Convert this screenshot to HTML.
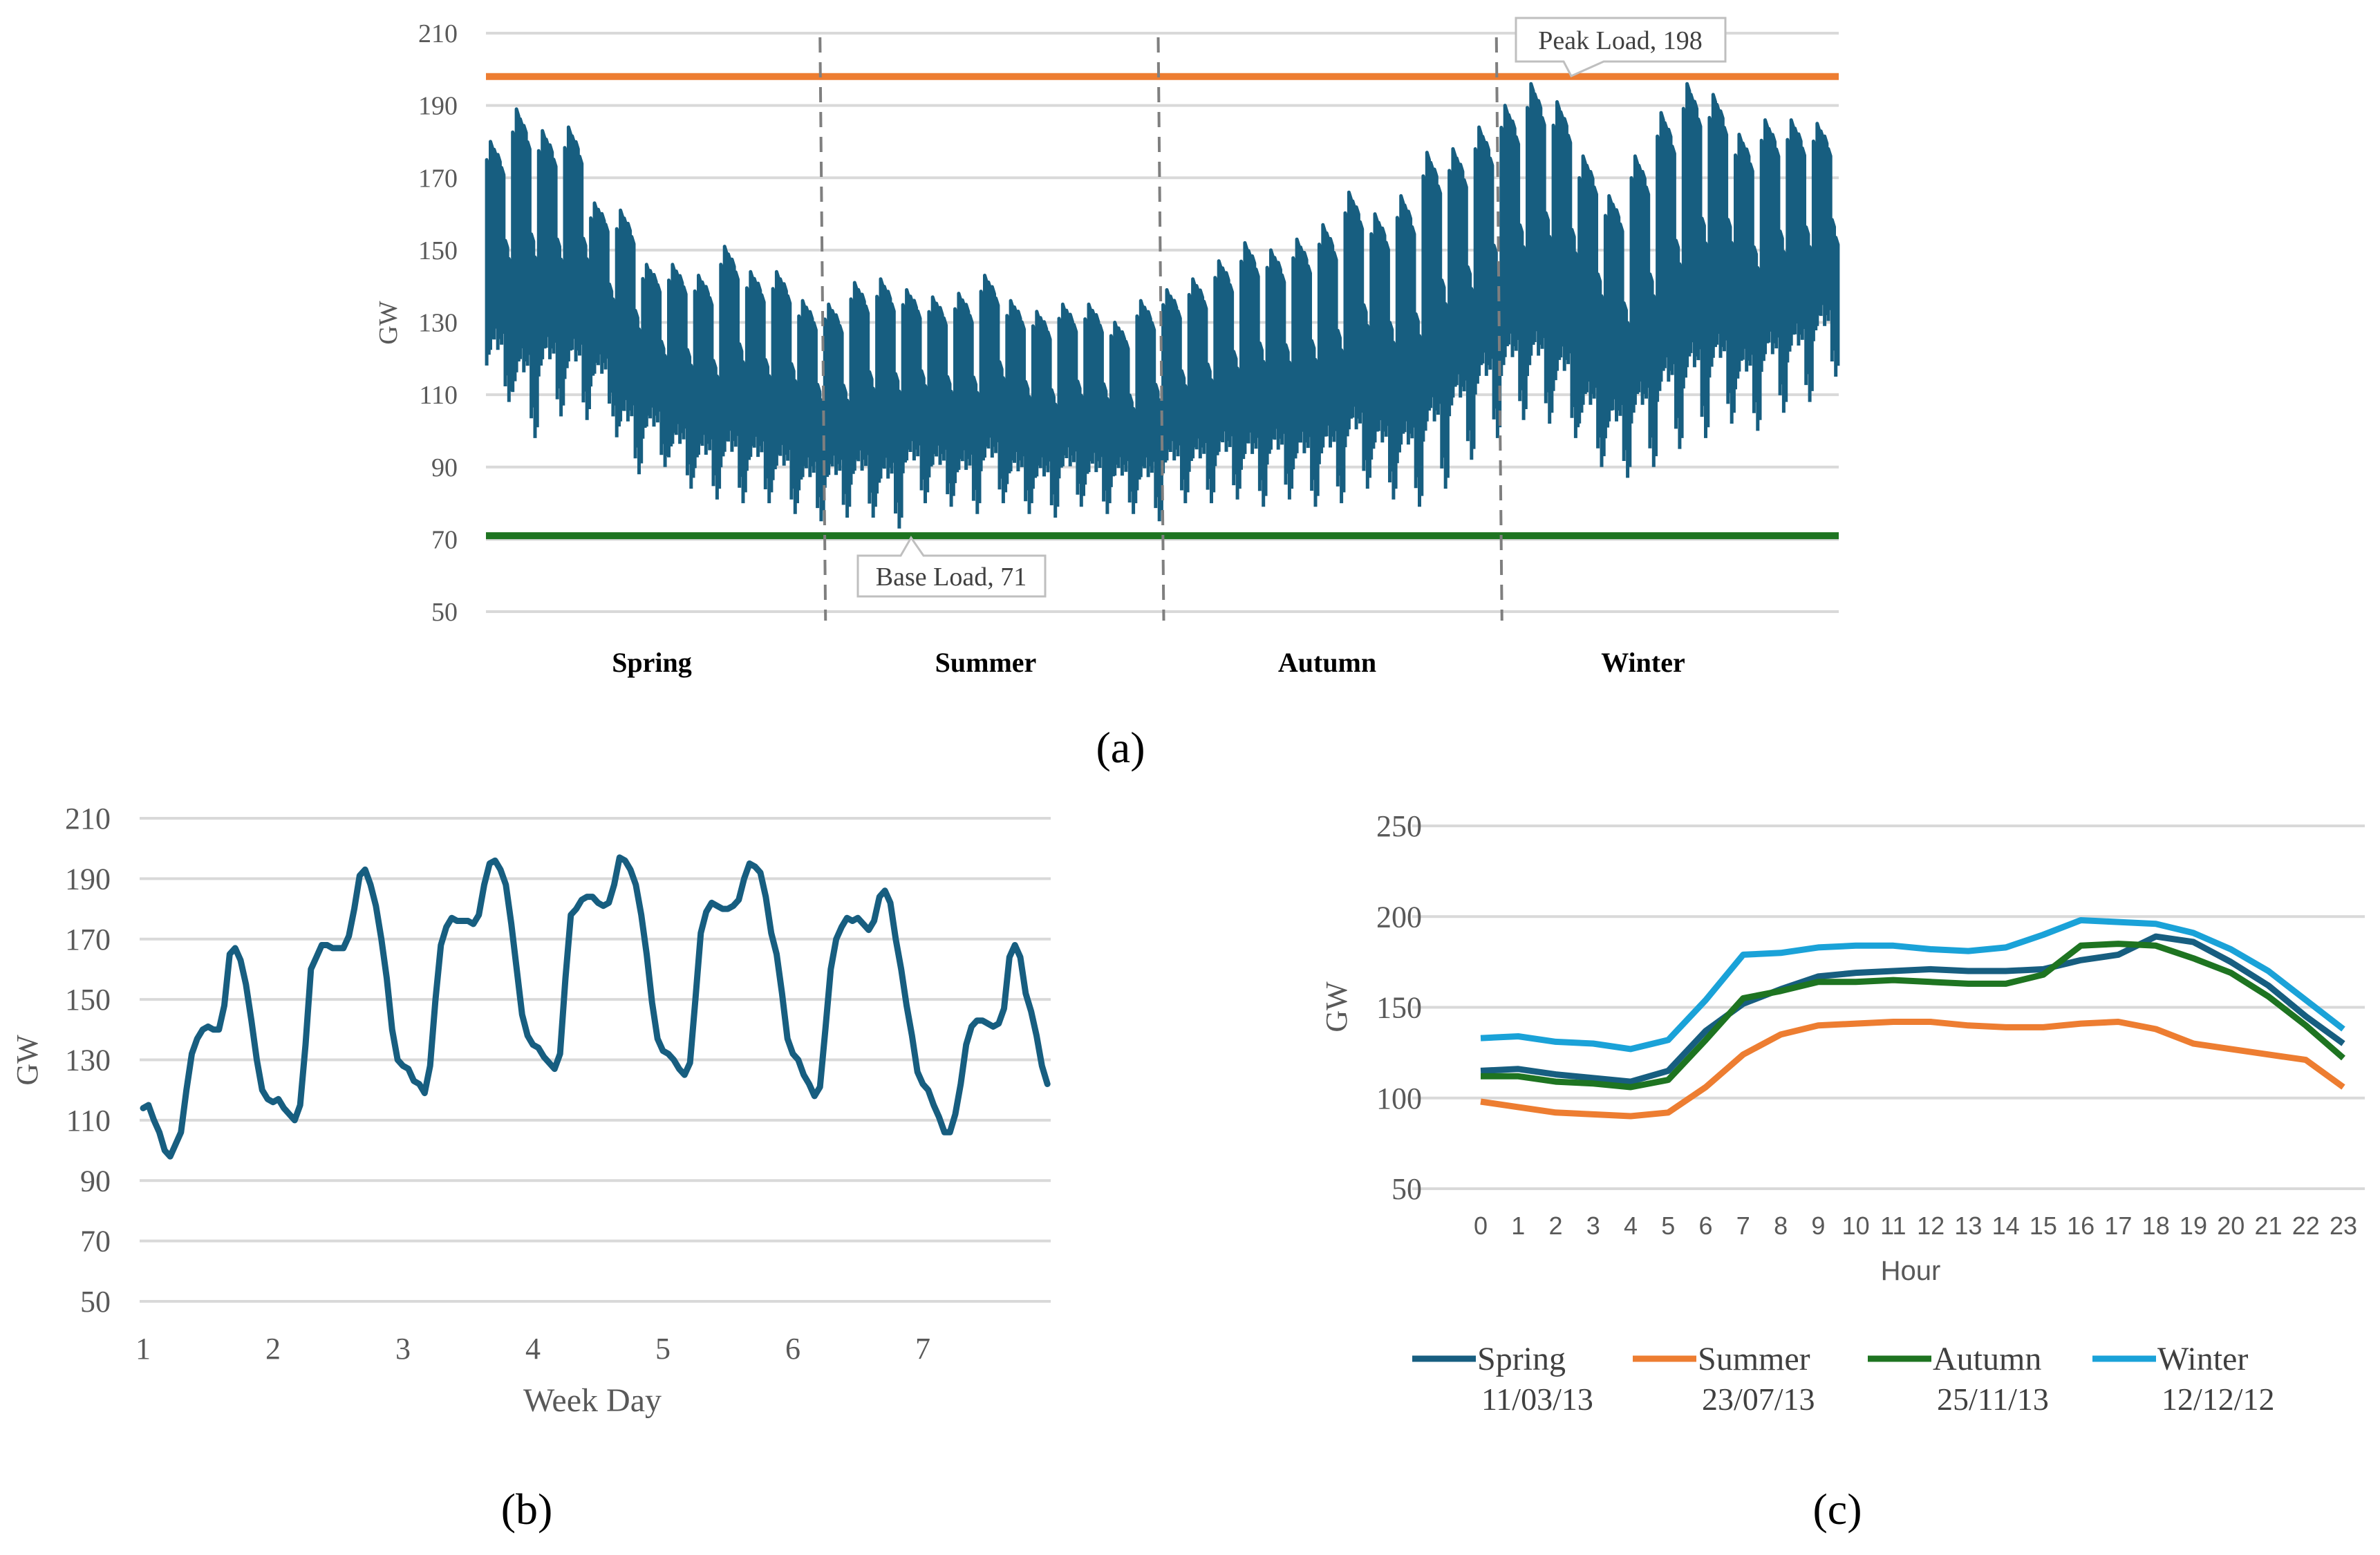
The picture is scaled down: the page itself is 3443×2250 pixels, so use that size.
<!DOCTYPE html>
<html><head><meta charset="utf-8"><style>
html,body{margin:0;padding:0;background:#fff;}
svg{display:block;}
.serif{font-family:"Liberation Serif",serif;}
.sans{font-family:"Liberation Sans",sans-serif;}
</style></head><body>
<svg id="fig" width="3443" height="2250" viewBox="0 0 3443 2250" xmlns="http://www.w3.org/2000/svg">
<g id="ga"></g>
<g id="gb"></g>
<g id="gc"></g>
</svg>
<script>
// ---------- Chart (a) data: weekly envelopes ----------
const aTicks = [50,70,90,110,130,150,170,190,210];
const aSeasons = ["Spring","Summer","Autumn","Winter"];
const aWeekMax = [180,189,183,184,163,161,146,146,143,151,144,144,136,
 135,141,142,139,137,138,143,136,133,135,135,130,136,
 139,142,147,152,150,153,157,166,160,165,177,178,184,
 190,196,191,176,165,176,188,196,193,182,186,186,185];
const aWeekMin = [108,98,104,103,104,88,90,84,81,80,80,77,75,
 76,76,73,80,79,77,80,77,76,79,77,77,75,
 80,80,81,79,81,79,80,84,81,79,84,92,98,
 103,102,98,90,87,90,95,98,102,100,105,108,115];
// within-week shape of daily peak / trough (fraction of weekly range)
const aDayPeakShape = [0.93,1.0,0.97,0.95,0.9,0.62,0.55];
const aDayLowShape = [0.14,0.2,0.24,0.2,0.22,0.06,0.0];
const aPeak = 198;
const aBase = 71;
// ---------- Chart (b) data: hourly load over a week ----------
const bTicks = [50,70,90,110,130,150,170,190,210];
const bDays = [1,2,3,4,5,6,7];
const bValues = [
114,115,110,106,100,98,102,106,120,132,137,140,141,140,140,148,165,167,163,155,143,130,120,117,
116,117,114,112,110,115,135,160,164,168,168,167,167,167,171,180,191,193,188,181,170,157,140,130,
128,127,123,122,119,128,150,168,174,177,176,176,176,175,178,188,195,196,193,188,175,160,145,138,
135,134,131,129,127,132,157,178,180,183,184,184,182,181,182,188,197,196,193,188,178,165,149,137,
133,132,130,127,125,129,150,172,179,182,181,180,180,181,183,190,195,194,192,184,172,165,152,137,
132,130,125,122,118,121,140,160,170,174,177,176,177,175,173,176,184,186,182,170,160,148,138,126,
122,120,115,111,106,106,112,122,135,141,143,143,142,141,142,147,164,168,164,152,146,138,128,122];
// ---------- Chart (c) data ----------
const cTicks = [50,100,150,200,250];
const cHours = [0,1,2,3,4,5,6,7,8,9,10,11,12,13,14,15,16,17,18,19,20,21,22,23];
const cSpring = [115,116,113,111,109,115,137,152,160,167,169,170,171,170,170,171,176,179,189,186,175,162,145,130];
const cSummer = [98,95,92,91,90,92,106,124,135,140,141,142,142,140,139,139,141,142,138,130,127,124,121,106];
const cAutumn = [112,112,109,108,106,110,132,155,159,164,164,165,164,163,163,168,184,185,184,177,169,156,140,122];
const cWinter = [133,134,131,130,127,132,154,179,180,183,184,184,182,181,183,190,198,197,196,191,182,170,154,138];
const cSeriesNames = ["Spring","Summer","Autumn","Winter"];
const cDates = ["11/03/13","23/07/13","25/11/13","12/12/12"];

const NS="http://www.w3.org/2000/svg";
function mk(parent,tag,attrs,text){const e=document.createElementNS(NS,tag);for(const k in attrs)e.setAttribute(k,attrs[k]);if(text!==undefined)e.textContent=text;parent.appendChild(e);return e;}

// ================= Chart (a) =================
(function(){
 const g=document.getElementById('ga');
 const x0=703,x1=2660,yTop=48,yBot=885,vMin=50,vMax=210;
 const Y=v=>yBot-(v-vMin)/(vMax-vMin)*(yBot-yTop);
 const nDays=aWeekMax.length*7;
 const X=d=>x0+d/nDays*(x1-x0);
 aTicks.forEach(t=>{
  const l=mk(g,'line',{x1:x0,x2:x1,y1:Y(t),y2:Y(t),stroke:'#d9d9d9','stroke-width':4});
  
  
  const tx=mk(g,'text',{x:662,y:Y(t)+13,'text-anchor':'end','font-size':38,fill:'#595959',class:'serif'},t);
  
  
 });
 const yt=mk(g,'text',{x:0,y:0,'font-size':38,fill:'#595959',class:'serif',transform:'translate(574,467) rotate(-90)','text-anchor':'middle'},'GW');
 
 
 // fill core band
 let core='';
 aWeekMax.forEach((mx,w)=>{const mn=aWeekMin[w];core+=(w?'L':'M')+X(w*7).toFixed(1)+' '+Y(mn+(mx-mn)*0.3).toFixed(1)+'L'+X(w*7+7).toFixed(1)+' '+Y(mn+(mx-mn)*0.3).toFixed(1);});
 for(let w=aWeekMax.length-1;w>=0;w--){const mx=aWeekMax[w],mn=aWeekMin[w];const mid=mn+(mx-mn)*0.5;core+='L'+X(w*7+7).toFixed(1)+' '+Y(mid).toFixed(1)+'L'+X(w*7).toFixed(1)+' '+Y(mid).toFixed(1);}
 const cb=mk(g,'path',{d:core+'Z',fill:'#175e80'});
 
 
 let d='';
 aWeekMax.forEach((mx,w)=>{
  const mn=aWeekMin[w];
  for(let k=0;k<7;k++){
   const day=w*7+k;
   const top=mn+(mx-mn)*aDayPeakShape[k];
   const bot=mn+(mx-mn)*aDayLowShape[k];
   const xa=X(day+0.2), xb=X(day+0.8);
   d+=`M${xa.toFixed(1)} ${Y(bot).toFixed(1)}L${xa.toFixed(1)} ${Y(top).toFixed(1)}L${xb.toFixed(1)} ${Y(top-2).toFixed(1)}L${xb.toFixed(1)} ${Y(bot+3).toFixed(1)}`;
  }
 });
 const s=mk(g,'path',{d:d,stroke:'#175e80','stroke-width':5,fill:'none','stroke-linejoin':'round'});
 
 
 // peak/base lines
 const pl=mk(g,'line',{x1:x0,x2:x1,y1:Y(aPeak),y2:Y(aPeak),stroke:'#ed7d31','stroke-width':10});
 
 
 const bl=mk(g,'line',{x1:x0,x2:x1,y1:Y(aBase),y2:Y(aBase),stroke:'#1e7421','stroke-width':10});
 
 
 // dashed season dividers
 [1,2,3].forEach(i=>{
  const xx=x0+i*(x1-x0)/4;
  const dl=mk(g,'line',{x1:xx-6,x2:xx+2,y1:54,y2:898,stroke:'#7f7f7f','stroke-width':4,'stroke-dasharray':'22,14'});
  
  
 });
 const sx=[943,1426,1920,2377];
 aSeasons.forEach((s,i)=>{
  const t=mk(g,'text',{x:sx[i],y:972,'text-anchor':'middle','font-size':40,'font-weight':'bold',fill:'#000',class:'serif'},s);
  
  
 });
 // callouts
 const pk=mk(g,'g',{});
 
 
 mk(pk,'path',{d:'M2193 26H2496V89H2320L2273 110L2262 89H2193Z',fill:'#fff',stroke:'#bfbfbf','stroke-width':3});
 mk(pk,'text',{x:2344,y:71,'text-anchor':'middle','font-size':38,fill:'#404040',class:'serif'},'Peak Load, '+aPeak);
 const bs=mk(g,'g',{});
 
 
 mk(bs,'path',{d:'M1241 804H1303L1318 778L1336 804H1512V863H1241Z',fill:'#fff',stroke:'#bfbfbf','stroke-width':3});
 mk(bs,'text',{x:1376,y:847,'text-anchor':'middle','font-size':38,fill:'#404040',class:'serif'},'Base Load, '+aBase);
 const cap=mk(g,'text',{x:1621,y:1103,'text-anchor':'middle','font-size':64,fill:'#000',class:'serif'},'(a)');
 
 
})();

// ================= Chart (b) =================
(function(){
 const g=document.getElementById('gb');
 const x0=202,x1=1520,yTop=1184,yBot=1883,vMin=50,vMax=210;
 const Y=v=>yBot-(v-vMin)/(vMax-vMin)*(yBot-yTop);
 const dx0=207,dStep=188;
 const X=day=>dx0+(day-1)*dStep;
 bTicks.forEach(t=>{
  const l=mk(g,'line',{x1:x0,x2:x1,y1:Y(t),y2:Y(t),stroke:'#d9d9d9','stroke-width':4});
  
  
  const tx=mk(g,'text',{x:160,y:Y(t)+15,'text-anchor':'end','font-size':44,fill:'#595959',class:'serif'},t);
  
  
 });
 bDays.forEach(d=>{
  const tx=mk(g,'text',{x:X(d),y:1966,'text-anchor':'middle','font-size':44,fill:'#595959',class:'serif'},d);
  
  
 });
 const xt=mk(g,'text',{x:857,y:2042,'text-anchor':'middle','font-size':48,fill:'#595959',class:'serif'},'Week Day');
 
 
 const yt=mk(g,'text',{x:0,y:0,'font-size':44,fill:'#595959',class:'serif',transform:'translate(54,1534) rotate(-90)','text-anchor':'middle'},'GW');
 
 
 const pts=bValues.map((v,i)=>X(1+i/24).toFixed(1)+','+Y(v).toFixed(1)).join(' ');
 const pl=mk(g,'polyline',{points:pts,fill:'none',stroke:'#175e80','stroke-width':9,'stroke-linejoin':'round','stroke-linecap':'round'});
 
 
 const cap=mk(g,'text',{x:762,y:2205,'text-anchor':'middle','font-size':64,fill:'#000',class:'serif'},'(b)');
 
 
})();

// ================= Chart (c) =================
(function(){
 const g=document.getElementById('gc');
 const x0=2043,x1=3421,yTop=1195,yBot=1720,vMin=50,vMax=250;
 const Y=v=>yBot-(v-vMin)/(vMax-vMin)*(yBot-yTop);
 const X=h=>2142+h*(3390-2142)/23;
 cTicks.forEach(t=>{
  const l=mk(g,'line',{x1:x0,x2:x1,y1:Y(t),y2:Y(t),stroke:'#d9d9d9','stroke-width':4});
  
  
  const tx=mk(g,'text',{x:2057,y:Y(t)+15,'text-anchor':'end','font-size':44,fill:'#595959',class:'serif'},t);
  
  
 });
 cHours.forEach(h=>{
  const tx=mk(g,'text',{x:X(h),y:1786,'text-anchor':'middle','font-size':36,fill:'#595959',class:'sans'},h);
  
  
 });
 const xt=mk(g,'text',{x:2764,y:1852,'text-anchor':'middle','font-size':40,fill:'#595959',class:'sans'},'Hour');
 
 
 const yt=mk(g,'text',{x:0,y:0,'font-size':44,fill:'#595959',class:'serif',transform:'translate(1948,1457) rotate(-90)','text-anchor':'middle'},'GW');
 
 
 const series=[cSpring,cSummer,cAutumn,cWinter];
 const colors=['#175e80','#ed7d31','#1e7421','#1aa2d8'];
 const order=[1,0,2,3];
 order.forEach(i=>{
  const pts=series[i].map((v,h)=>X(cHours[h]).toFixed(1)+','+Y(v).toFixed(1)).join(' ');
  const pl=mk(g,'polyline',{points:pts,fill:'none',stroke:colors[i],'stroke-width':9,'stroke-linejoin':'round'});
  
  
 });
 const lx=[2043,2362,2702,3027];
 cSeriesNames.forEach((n,i)=>{
  const lg=mk(g,'g',{});
  
  
  mk(lg,'line',{x1:lx[i],x2:lx[i]+92,y1:1966,y2:1966,stroke:colors[i],'stroke-width':9});
  mk(lg,'text',{x:lx[i]+94,y:1982,'font-size':48,fill:'#404040',class:'serif'},n);
  mk(lg,'text',{x:lx[i]+100,y:2040,'font-size':46,fill:'#404040',class:'serif'},cDates[i]);
 });
 const cap=mk(g,'text',{x:2658,y:2205,'text-anchor':'middle','font-size':64,fill:'#000',class:'serif'},'(c)');
 
 
})();
</script>
</body></html>
